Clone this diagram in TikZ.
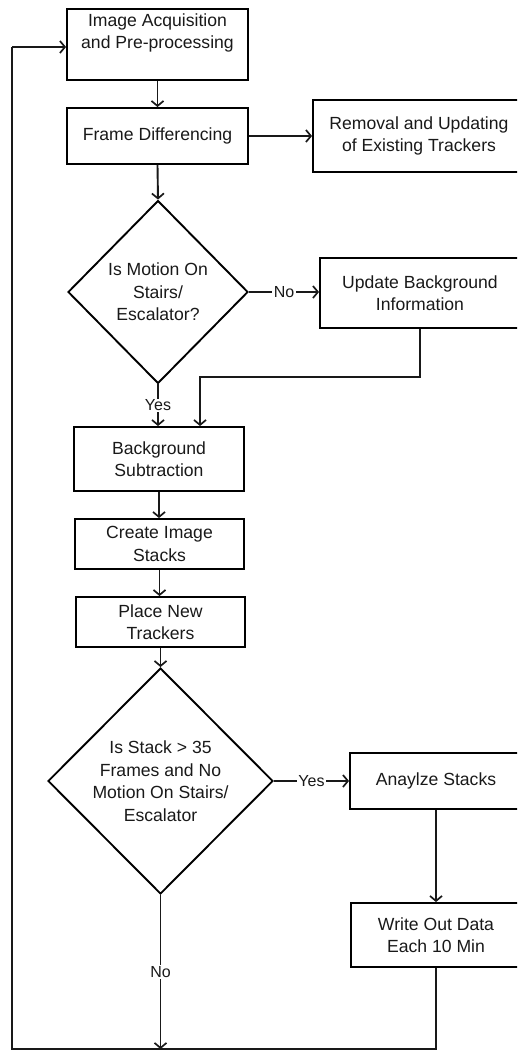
\documentclass[tikz,border=0pt]{standalone}
\usepackage{fontspec}
\setmainfont{Liberation Sans}
\usetikzlibrary{arrows.meta,shapes.geometric}

\tikzset{
  flow/.style={line width=1.9pt, color=black!90},
  tip/.style={flow, -{Straight Barb[length=5pt,width=12pt,line width=1.7pt]}},
  box/.style={draw, line width=1.9pt, rectangle, inner sep=0pt, align=center,
    font=\fontsize{17.6}{22.5}\selectfont, text=black!90},
  decision/.style={draw, line width=1.9pt, diamond, inner sep=0pt, align=center,
    font=\fontsize{17.6}{22.5}\selectfont, text=black!90},
  tag/.style={fill=white, inner xsep=1.5pt, inner ysep=1pt,
    font=\fontsize{16}{18}\selectfont, text=black!90}
}

\begin{document}
\begin{tikzpicture}[x=1pt,y=-1pt]
\useasboundingbox (0,0) rectangle (517,1051);
\clip (0,0) rectangle (517,1051);

% process boxes
\node[box, minimum width=181, minimum height=71,
  label={[box, draw=none, anchor=north, yshift=-4.5pt]north:{Image Acquisition\\and Pre-processing}}]
  (acq) at (157.5,44.5) {};
\node[box, minimum width=181, minimum height=56] (diff) at (157.5,136) {Frame Differencing};
\node[box, minimum width=212, minimum height=72] (rem) at (419,136) {Removal and Updating\\of Existing Trackers};
\node[box, minimum width=200, minimum height=70] (upd) at (420,293) {Update Background\\Information};
\node[box, minimum width=170, minimum height=64] (bgs) at (159,459) {Background\\Subtraction};
\node[box, minimum width=169, minimum height=50] (stk) at (159.5,544) {Create Image\\Stacks};
\node[box, minimum width=169, minimum height=50] (trk) at (160.5,622) {Place New\\Trackers};
\node[box, minimum width=172, minimum height=56] (ana) at (436,781) {Anaylze Stacks};
\node[box, minimum width=170, minimum height=64] (wrt) at (436,935) {Write Out Data\\Each 10 Min};

% decisions
\node[decision, minimum width=180, minimum height=183] (dec1) at (158,292)
  {Is Motion On\\Stairs/\\Escalator?};
\node[decision, minimum width=225, minimum height=226] (dec2) at (160.5,781)
  {Is Stack > 35\\Frames and No\\Motion On Stairs/\\Escalator};

% routing points
\coordinate (j1) at (200,377);
\coordinate (bot) at (12,1049);
\coordinate (lp) at (12,47);

% connectors
\draw[tip] (acq.south) -- (diff.north);
\draw[tip] (diff.east) -- (diff.east -| rem.west);
\draw[tip] (diff.south) -- (dec1.north);
\draw[tip] (dec1.east) -- node[tag] {No} (dec1.east -| upd.west);
\draw[tip] (dec1.south) -- node[tag] {Yes} (dec1.south |- bgs.north);
\draw[tip] (upd.south) |- (j1) -- (j1 |- bgs.north);
\draw[tip] (bgs.south) -- (bgs.south |- stk.north);
\draw[tip] (stk.south) -- (stk.south |- trk.north);
\draw[tip] (trk.south) -- (trk.south |- dec2.north);
\draw[tip] (dec2.east) -- node[tag] {Yes} (dec2.east -| ana.west);
\draw[tip] (ana.south) -- (wrt.north);
\draw[tip] (dec2.south) -- node[tag] {No} (dec2.south |- bot);
\draw[flow] (wrt.south) -- (wrt.south |- bot) -- (bot) -- (lp);
\draw[tip] (lp) -- (lp -| acq.west);
\end{tikzpicture}
\end{document}
